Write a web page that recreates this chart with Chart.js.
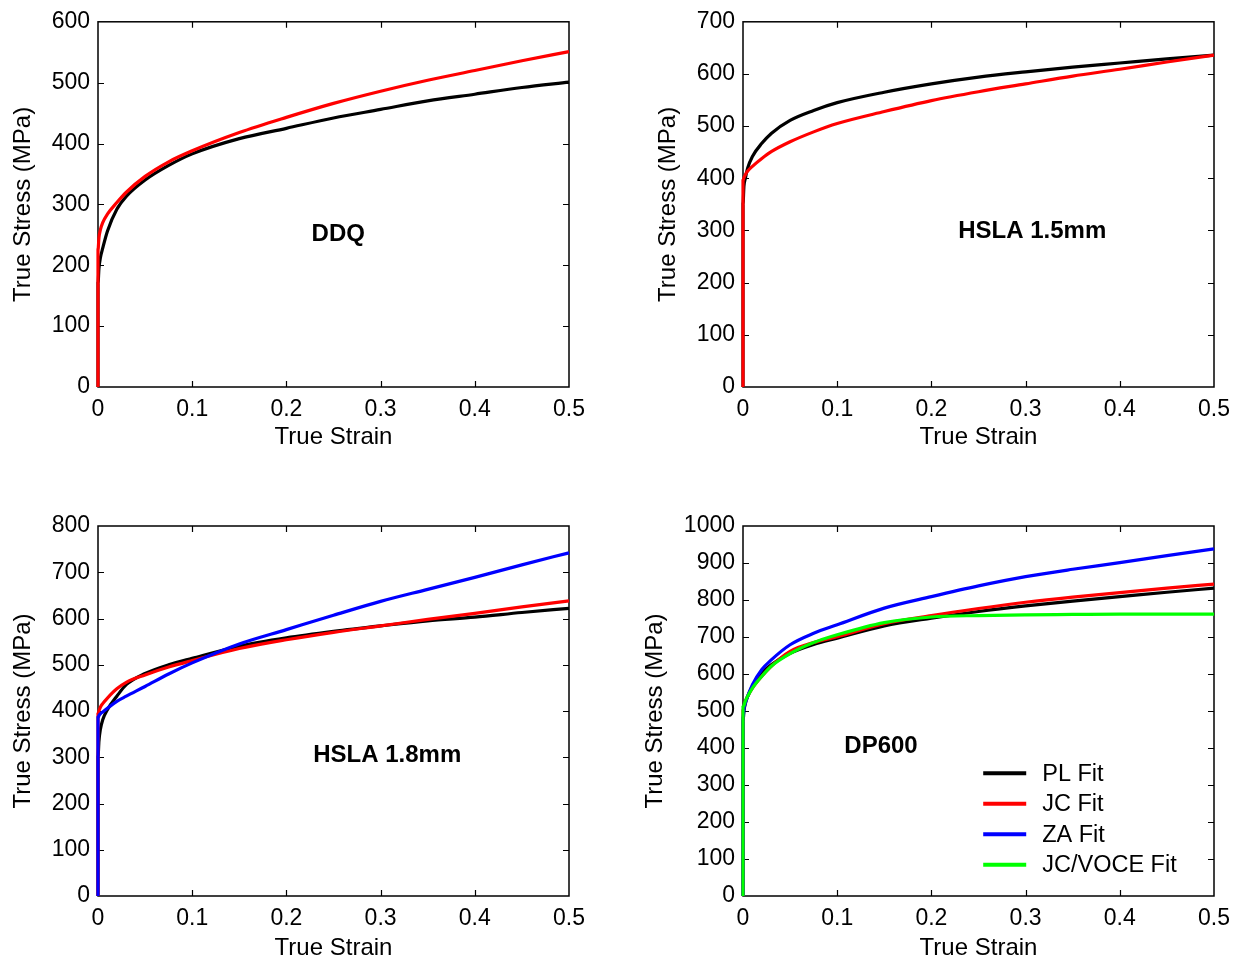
<!DOCTYPE html>
<html>
<head>
<meta charset="utf-8">
<script src="https://cdn.jsdelivr.net/npm/chart.js@4/dist/chart.umd.min.js"></script>
<style>
  html, body { margin: 0; padding: 0; background: #fff; }
  body { width: 1244px; height: 965px; position: relative; overflow: hidden; }
  canvas { position: absolute; }
</style>
</head>
<body>
<canvas id="c1" width="622" height="482" style="left:0px;top:0px;width:622px;height:482px"></canvas>
<canvas id="c2" width="622" height="482" style="left:622px;top:0px;width:622px;height:482px"></canvas>
<canvas id="c3" width="622" height="483" style="left:0px;top:482px;width:622px;height:483px"></canvas>
<canvas id="c4" width="622" height="483" style="left:622px;top:482px;width:622px;height:483px"></canvas>
<script>
// ---------- DATA ----------
const strain = [0, 0, 0.001, 0.0025, 0.005, 0.01, 0.02, 0.03, 0.05, 0.075, 0.1, 0.15, 0.2, 0.25, 0.3, 0.35, 0.4, 0.45, 0.5];

const ddqPL  = [0, 170, 195, 212, 228, 256, 292, 313, 340, 364, 383, 408, 425, 442, 456, 470, 481, 492, 501];
const ddqJC  = [0, 225, 245, 258, 270, 284, 303, 320, 346, 370, 388, 418, 443, 466, 486, 504, 520, 536, 551];

const hsla15PL = [0, 350, 385, 400, 420, 442, 467, 486, 511, 530, 545, 565, 581, 594, 604, 613, 621, 629, 636];
const hsla15JC = [0, 395, 401, 407, 414, 423, 438, 451, 470, 489, 505, 528, 549, 566, 581, 596, 609, 623, 636];

const hsla18PL = [0, 300, 335, 360, 381, 403, 432, 457, 481, 500, 514, 540, 558, 572, 584, 595, 603, 613, 622];
const hsla18JC = [0, 393, 400, 408, 416, 428, 448, 462, 478, 495, 509, 535, 554, 570, 584, 598, 611, 625, 638];
const hsla18ZA = [0, 385, 390, 394, 398, 406, 421, 432, 453, 480, 504, 545, 576, 607, 637, 663, 689, 716, 742];

const dp600PL   = [0, 470, 500, 520, 540, 567, 603, 625, 656, 680, 697, 730, 751, 769, 784, 797, 809, 821, 832];
const dp600JC   = [0, 500, 510, 525, 540, 562, 594, 621, 661, 685, 701, 736, 758, 777, 794, 808, 820, 832, 843];
const dp600ZA   = [0, 480, 505, 522, 540, 571, 612, 638, 679, 710, 733, 778, 809, 838, 863, 883, 901, 920, 938];
const dp600VOCE = [0, 510, 515, 527, 540, 562, 594, 621, 655, 685, 706, 739, 754, 758, 760, 761, 762, 762, 762];

const seriesNames  = ['PL Fit', 'JC Fit', 'ZA Fit', 'JC/VOCE Fit'];
const seriesColors = ['#000000', '#ff0000', '#0000ff', '#00ff00'];

const xTickLabels = ['0', '0.1', '0.2', '0.3', '0.4', '0.5'];
const yTicks600  = ['0', '100', '200', '300', '400', '500', '600'];
const yTicks700  = ['0', '100', '200', '300', '400', '500', '600', '700'];
const yTicks800  = ['0', '100', '200', '300', '400', '500', '600', '700', '800'];
const yTicks1000 = ['0', '100', '200', '300', '400', '500', '600', '700', '800', '900', '1000'];

const panelNames = ['DDQ', 'HSLA 1.5mm', 'HSLA 1.8mm', 'DP600'];

// ---------- STYLE ----------
const FONT = "'Liberation Sans', Arial, Helvetica, sans-serif";
const TICK_SIZE = 23;
const TITLE_SIZE = 24;
const LINE_H = 1.2;

function toPoints(ys) { return strain.map((x, i) => ({ x: x, y: ys[i] })); }

const framePlugin = {
  id: 'frame',
  beforeDatasetsDraw(chart) {
    const { ctx, chartArea: a, scales: { x, y } } = chart;
    ctx.save();
    ctx.strokeStyle = '#000';
    ctx.lineWidth = 1.5;
    ctx.strokeRect(a.left, a.top, a.right - a.left, a.bottom - a.top);
    const L = 6;
    ctx.lineWidth = 1.2;
    ctx.beginPath();
    x.ticks.forEach(t => {
      const p = Math.round(x.getPixelForValue(t.value)) + 0.5;
      if (Math.abs(p - a.left) < 2 || Math.abs(p - a.right) < 2) return;
      ctx.moveTo(p, a.bottom); ctx.lineTo(p, a.bottom - L);
      ctx.moveTo(p, a.top); ctx.lineTo(p, a.top + L);
    });
    y.ticks.forEach(t => {
      const p = Math.round(y.getPixelForValue(t.value)) + 0.5;
      if (Math.abs(p - a.top) < 2 || Math.abs(p - a.bottom) < 2) return;
      ctx.moveTo(a.left, p); ctx.lineTo(a.left + L, p);
      ctx.moveTo(a.right, p); ctx.lineTo(a.right - L, p);
    });
    ctx.stroke();
    ctx.restore();
  }
};

const notePlugin = {
  id: 'note',
  afterDatasetsDraw(chart, args, opts) {
    const { ctx, scales: { x, y } } = chart;
    ctx.save();
    if (opts.text) {
      ctx.font = 'bold 24px ' + FONT;
      ctx.fillStyle = '#000';
      ctx.textAlign = 'center';
      ctx.textBaseline = 'middle';
      ctx.fillText(opts.text, x.getPixelForValue(opts.x), y.getPixelForValue(opts.y));
    }
    if (opts.legend) {
      ctx.font = '23.5px ' + FONT;
      ctx.textAlign = 'left';
      ctx.textBaseline = 'middle';
      const x0 = x.getPixelForValue(opts.legend.x);
      const y0 = y.getPixelForValue(opts.legend.y);
      chart.data.datasets.forEach((ds, i) => {
        const yy = y0 + i * opts.legend.rowGap;
        ctx.strokeStyle = ds.borderColor;
        ctx.lineWidth = 4;
        ctx.beginPath();
        ctx.moveTo(x0, yy); ctx.lineTo(x0 + 43, yy);
        ctx.stroke();
        ctx.fillStyle = '#000';
        ctx.fillText(ds.label, x0 + 59, yy + 1);
      });
    }
    ctx.restore();
  }
};

function makeChart(id, p) {
  const canvas = document.getElementById(id);
  const W = canvas.width, H = canvas.height;
  const lh = TITLE_SIZE * LINE_H;
  const n = p.series.length;
  const datasets = p.series.map((s, i) => ({
    label: seriesNames[i],
    data: toPoints(s),
    borderColor: seriesColors[i],
    backgroundColor: seriesColors[i],
    borderWidth: 3.2,
    pointRadius: 0,
    showLine: true,
    fill: false,
    cubicInterpolationMode: 'monotone',
    clip: false,
    order: n - i
  }));
  return new Chart(canvas, {
    type: 'scatter',
    data: { datasets },
    plugins: [framePlugin, notePlugin],
    options: {
      responsive: false,
      animation: false,
      devicePixelRatio: 1,
      layout: { padding: { left: 0, top: p.area.t, right: W - p.area.r, bottom: 0 } },
      plugins: {
        legend: { display: false },
        tooltip: { enabled: false },
        note: p.note
      },
      scales: {
        x: {
          type: 'linear', min: 0, max: 0.5,
          grid: { display: false, drawTicks: false },
          border: { display: false },
          ticks: {
            stepSize: 0.1, autoSkip: false, maxRotation: 0, padding: 9,
            color: '#000', font: { family: FONT, size: TICK_SIZE },
            callback: v => xTickLabels[Math.round(v * 10)]
          },
          title: {
            display: true, text: 'True Strain', color: '#000',
            font: { family: FONT, size: TITLE_SIZE },
            padding: { top: 0, bottom: (H - p.xTitleY) - lh / 2 }
          },
          afterFit: s => { s.height = H - p.area.b; }
        },
        y: {
          type: 'linear', min: 0, max: p.yMax,
          grid: { display: false, drawTicks: false },
          border: { display: false },
          ticks: {
            stepSize: 100, autoSkip: false, padding: 8,
            color: '#000', font: { family: FONT, size: TICK_SIZE },
            callback: v => p.yLabels[Math.round(v / 100)]
          },
          title: {
            display: true, text: 'True Stress (MPa)', color: '#000',
            font: { family: FONT, size: TITLE_SIZE },
            padding: { top: p.yTitleX - lh / 2, bottom: 0 }
          },
          afterFit: s => { s.width = p.area.l; }
        }
      }
    }
  });
}

makeChart('c1', {
  series: [ddqPL, ddqJC], yMax: 600, yLabels: yTicks600,
  area: { l: 98, r: 569, t: 17, b: 387 }, yTitleX: 23, xTitleY: 437,
  note: { text: panelNames[0], x: 0.255, y: 250 }
});
makeChart('c2', {
  series: [hsla15PL, hsla15JC], yMax: 700, yLabels: yTicks700,
  area: { l: 121, r: 592, t: 17, b: 387 }, yTitleX: 46, xTitleY: 437,
  note: { text: panelNames[1], x: 0.307, y: 299 }
});
makeChart('c3', {
  series: [hsla18PL, hsla18JC, hsla18ZA], yMax: 800, yLabels: yTicks800,
  area: { l: 98, r: 569, t: 44, b: 414 }, yTitleX: 23, xTitleY: 466,
  note: { text: panelNames[2], x: 0.307, y: 303 }
});
makeChart('c4', {
  series: [dp600PL, dp600JC, dp600ZA, dp600VOCE], yMax: 1000, yLabels: yTicks1000,
  area: { l: 121, r: 592, t: 44, b: 414 }, yTitleX: 33, xTitleY: 466,
  note: { text: panelNames[3], x: 0.1465, y: 405, legend: { x: 0.255, y: 332, rowGap: 30.5 } }
});
</script>
</body>
</html>
